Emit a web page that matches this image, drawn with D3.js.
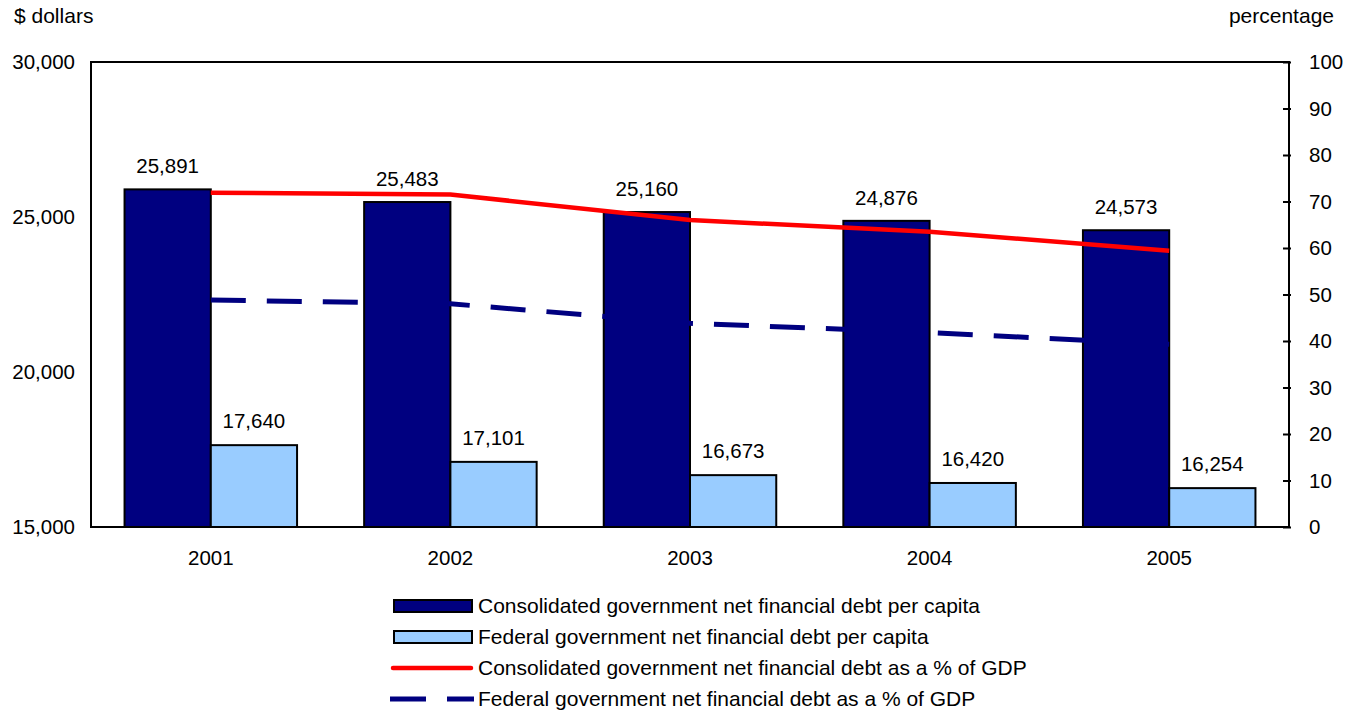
<!DOCTYPE html>
<html>
<head>
<meta charset="utf-8">
<script src="https://cdn.jsdelivr.net/npm/d3@7"></script>
<style>
  html, body { margin: 0; padding: 0; background: #fff; }
  svg text { font-family: "Liberation Sans", Arial, Helvetica, sans-serif; fill: #000; }
</style>
</head>
<body>
<svg id="chart" width="1356" height="714"></svg>
<script>
// Net financial debt, Canada, 2001-2005
const years = ["2001", "2002", "2003", "2004", "2005"];
const consolidatedPerCapita = [25891, 25483, 25160, 24876, 24573];
const federalPerCapita = [17640, 17101, 16673, 16420, 16254];
const consolidatedPctGDP = [71.9, 71.5, 66.0, 63.5, 59.4];
const federalPctGDP = [48.8, 48.0, 43.8, 41.8, 39.3];
const leftTicks = [15000, 20000, 25000, 30000];
const rightTicks = [0, 10, 20, 30, 40, 50, 60, 70, 80, 90, 100];
const legendLabels = [
  "Consolidated government net financial debt per capita",
  "Federal government net financial debt per capita",
  "Consolidated government net financial debt as a % of GDP",
  "Federal government net financial debt as a % of GDP"
];

const navy = "#000080";
const lightBlue = "#99ccff";
const red = "#ff0000";

const svg = d3.select("#chart");
const plot = { left: 91, right: 1289, top: 62, bottom: 527 };
const numSize = 20.5;
const textSize = 21;

const x = d3.scaleBand().domain(years).range([plot.left, plot.right]).paddingInner(0.28).paddingOuter(0.14);
const yL = d3.scaleLinear().domain([15000, 30000]).range([plot.bottom, plot.top]);
const yR = d3.scaleLinear().domain([0, 100]).range([plot.bottom, plot.top]);
const center = d => x(d) + x.bandwidth() / 2;
const fmt = d3.format(",");

// Bars
const half = x.bandwidth() / 2;
const g = svg.append("g");
g.selectAll("rect.cons").data(years).join("rect")
  .attr("x", d => x(d)).attr("width", half)
  .attr("y", (d, i) => yL(consolidatedPerCapita[i]))
  .attr("height", (d, i) => plot.bottom - yL(consolidatedPerCapita[i]))
  .attr("fill", navy).attr("stroke", "#000").attr("stroke-width", 2);
g.selectAll("rect.fed").data(years).join("rect")
  .attr("x", d => x(d) + half).attr("width", half)
  .attr("y", (d, i) => yL(federalPerCapita[i]))
  .attr("height", (d, i) => plot.bottom - yL(federalPerCapita[i]))
  .attr("fill", lightBlue).attr("stroke", "#000").attr("stroke-width", 2);

// Value labels
g.selectAll("text.cl").data(years).join("text")
  .attr("x", d => x(d) + half / 2)
  .attr("y", (d, i) => yL(consolidatedPerCapita[i]) - 16)
  .attr("text-anchor", "middle").attr("font-size", numSize)
  .text((d, i) => fmt(consolidatedPerCapita[i]));
g.selectAll("text.fl").data(years).join("text")
  .attr("x", d => x(d) + half * 1.5)
  .attr("y", (d, i) => yL(federalPerCapita[i]) - 17)
  .attr("text-anchor", "middle").attr("font-size", numSize)
  .text((d, i) => fmt(federalPerCapita[i]));

// Lines on the percentage axis
const line = d3.line().x((d, i) => center(years[i])).y(d => yR(d));
svg.append("path").datum(consolidatedPctGDP).attr("d", line)
  .attr("fill", "none").attr("stroke", red).attr("stroke-width", 4.5);
svg.append("path").datum(federalPctGDP).attr("d", line)
  .attr("fill", "none").attr("stroke", navy).attr("stroke-width", 5)
  .attr("stroke-dasharray", "35,21");

// Frame
svg.append("rect")
  .attr("x", plot.left).attr("y", plot.top)
  .attr("width", plot.right - plot.left).attr("height", plot.bottom - plot.top)
  .attr("fill", "none").attr("stroke", "#000").attr("stroke-width", 2);

// Left axis labels
const axL = svg.append("g").attr("transform", `translate(${plot.left},0)`)
  .call(d3.axisLeft(yL).tickValues(leftTicks).tickFormat(fmt).tickSize(0).tickPadding(16));
axL.select(".domain").remove();
axL.selectAll("text").attr("font-size", numSize).attr("font-family", null);

// Right axis with short inward ticks
const axR = svg.append("g").attr("transform", `translate(${plot.right},0)`)
  .call(d3.axisRight(yR).tickValues(rightTicks).tickSize(0).tickPadding(20));
axR.select(".domain").remove();
axR.selectAll("text").attr("font-size", numSize).attr("font-family", null);
axR.selectAll(".tick").append("line")
  .attr("x1", -6).attr("x2", 2).attr("stroke", "#000").attr("stroke-width", 2);

// Category axis
const axX = svg.append("g").attr("transform", `translate(0,${plot.bottom})`)
  .call(d3.axisBottom(x).tickSize(0).tickPadding(23));
axX.select(".domain").remove();
axX.selectAll("text").attr("font-size", numSize).attr("font-family", null);

// Axis titles
svg.append("text").attr("x", 14).attr("y", 23).attr("font-size", textSize).text("$ dollars");
svg.append("text").attr("x", 1334).attr("y", 23).attr("text-anchor", "end").attr("font-size", textSize).text("percentage");

// Legend
const leg = svg.append("g").attr("transform", "translate(390,606)");
const rowH = 31;
legendLabels.forEach((lab, i) => {
  const row = leg.append("g").attr("transform", `translate(0,${i * rowH})`);
  if (i < 2) {
    row.append("rect").attr("x", 4).attr("y", -6).attr("width", 78).attr("height", 12)
      .attr("fill", i === 0 ? navy : lightBlue).attr("stroke", "#000").attr("stroke-width", 2);
  } else if (i === 2) {
    row.append("line").attr("x1", 3).attr("x2", 81).attr("y1", 0).attr("y2", 0)
      .attr("stroke", red).attr("stroke-width", 4.5).attr("stroke-linecap", "round");
  } else {
    row.append("line").attr("x1", 0).attr("x2", 84).attr("y1", 0).attr("y2", 0)
      .attr("stroke", navy).attr("stroke-width", 5).attr("stroke-dasharray", "36,21");
  }
  row.append("text").attr("x", 88).attr("y", 0).attr("dy", "0.35em")
    .attr("font-size", textSize).text(lab);
});
</script>
</body>
</html>
